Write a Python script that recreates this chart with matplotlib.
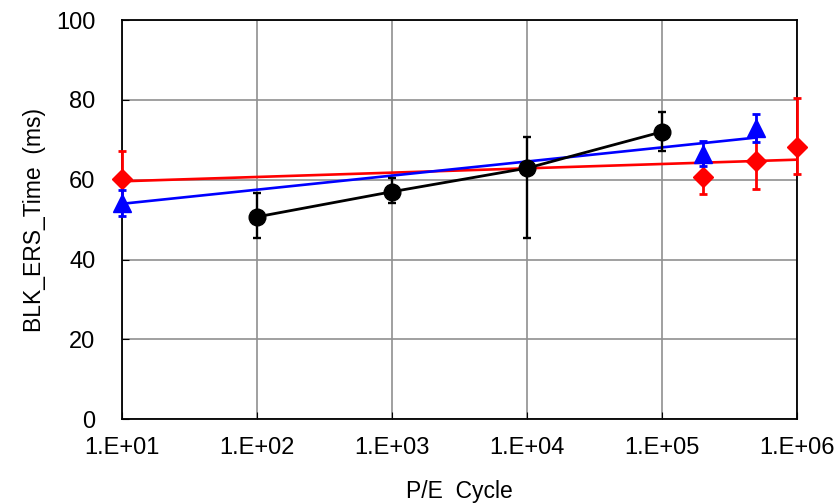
import matplotlib
matplotlib.use("Agg")
import matplotlib.pyplot as plt
import numpy as np

plt.rcParams['font.family'] = ['Liberation Sans', 'DejaVu Sans']

# black series (connected points)
blk_x = [1e2, 1e3, 1e4, 1e5]
blk_y = [50.7, 57.0, 62.9, 72.0]
blk_lo = [5.4, 2.8, 17.6, 4.7]
blk_hi = [5.9, 3.5, 7.7, 5.0]

# blue series (log trendline)
blu_x = [1e1, 2e5, 5e5]
blu_y = [54.2, 66.5, 73.0]
blu_lo = [3.3, 3.1, 3.5]
blu_hi = [3.3, 3.1, 3.5]

# red series (log trendline)
red_x = [1e1, 2e5, 5e5, 1e6]
red_y = [60.1, 60.8, 64.6, 68.1]
red_lo = [7.0, 4.4, 7.0, 6.7]
red_hi = [7.0, 4.4, 7.0, 12.4]

xticks = [1e1, 1e2, 1e3, 1e4, 1e5, 1e6]
xlabels = ['1.E+01', '1.E+02', '1.E+03', '1.E+04', '1.E+05', '1.E+06']
yticks = [0, 20, 40, 60, 80, 100]

fig = plt.figure(figsize=(8.39, 5.03), dpi=100)
ax = fig.add_axes([0.1454, 0.1664, 0.8046, 0.7938])

def trend(xs, ys, color):
    lx = np.log10(xs)
    k, b = np.polyfit(lx, ys, 1)
    xx = np.array([min(xs), max(xs)])
    ax.plot(xx, k * np.log10(xx) + b, color=color, lw=1.9, zorder=3)

trend(red_x, red_y, 'red')
trend(blu_x, blu_y, 'blue')

ax.errorbar(red_x, red_y, yerr=[red_lo, red_hi], fmt='D', color='red',
            ms=10.5, capsize=3, elinewidth=2, capthick=2, zorder=4, clip_on=False)
ax.errorbar(blu_x, blu_y, yerr=[blu_lo, blu_hi], fmt='^', color='blue',
            ms=13, capsize=3, elinewidth=2, capthick=2, zorder=5, clip_on=False)
ax.errorbar(blk_x, blk_y, yerr=[blk_lo, blk_hi], fmt='o-', color='black',
            ms=12, lw=2, capsize=3, elinewidth=1.7, capthick=1.7, zorder=6)

ax.set_xscale('log')
ax.set_xlim(1e1, 1e6)
ax.set_ylim(0, 100)
ax.set_xticks(xticks)
ax.set_xticklabels(xlabels)
ax.minorticks_off()
ax.set_yticks(yticks)
ax.tick_params(direction='in', length=5, labelsize=17)
ax.tick_params(axis='y', pad=19)
ax.tick_params(axis='x', pad=13)
ax.grid(True, color='#909090', lw=1.2)
ax.set_axisbelow(True)
for s in ax.spines.values():
    s.set_linewidth(1.3)

ax.set_xlabel('P/E  Cycle', fontsize=16.5, va='center')
ax.xaxis.set_label_coords(0.5, -0.18)
ax.set_ylabel('BLK_ERS_Time  (ms)', fontsize=16.5, va='center')
ax.yaxis.set_label_coords(-0.129, 0.5)

fig.savefig('out.png', dpi=100)
